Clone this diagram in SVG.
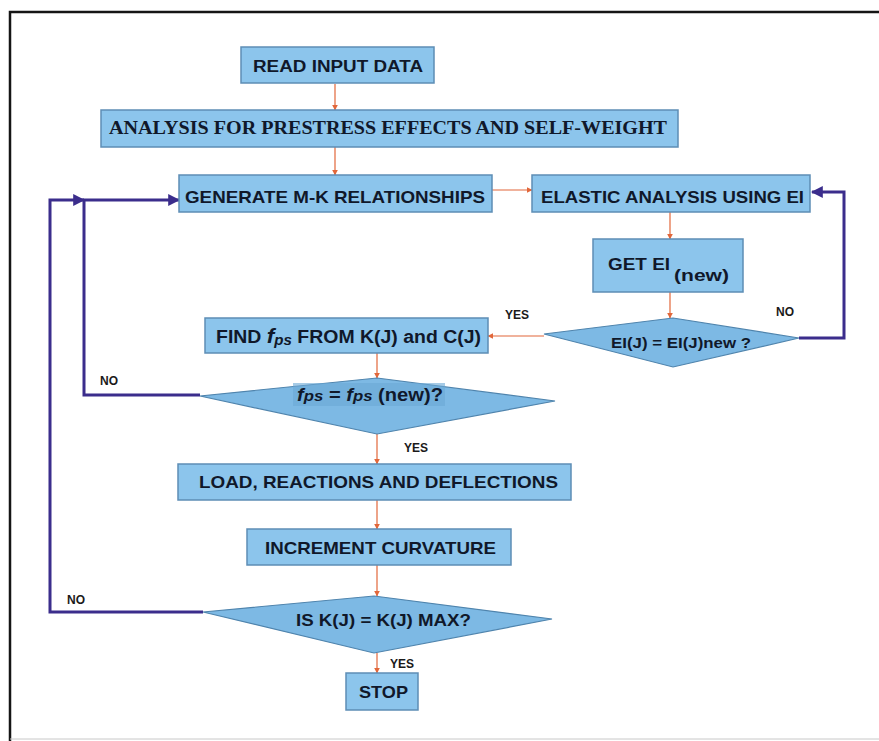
<svg xmlns="http://www.w3.org/2000/svg" width="879" height="741" viewBox="0 0 879 741">
<defs>
<style>
.box{fill:#8cc5ec;stroke:#5d8db5;stroke-width:1.5}
.dia{fill:#7db9e4;stroke:#4f84ad;stroke-width:1.2}
.t{font-family:"Liberation Sans",Arial,sans-serif;font-weight:bold;fill:#10182a}
.tm{font-family:"Liberation Serif","Times New Roman",serif;font-weight:bold;fill:#10182a}
.lbl{font-family:"Liberation Sans",Arial,sans-serif;font-weight:bold;font-size:12px;fill:#1a1a1a}
.o{stroke:#e2673a;stroke-width:1.2;fill:none}
.b{stroke:#3b2d8c;stroke-width:3;fill:none}
</style>
<marker id="ao" viewBox="0 0 10 10" refX="9" refY="5" markerWidth="6" markerHeight="6" orient="auto" markerUnits="userSpaceOnUse"><path d="M0,0 L10,5 L0,10 z" fill="#e2673a"/></marker>
<marker id="ab" viewBox="0 0 10 10" refX="9" refY="5" markerWidth="12" markerHeight="12" orient="auto" markerUnits="userSpaceOnUse"><path d="M0,0 L10,5 L0,10 z" fill="#3b2d8c"/></marker>
</defs>
<rect x="0" y="0" width="879" height="741" fill="#ffffff"/>
<path d="M10,741 V12 H879" fill="none" stroke="#151515" stroke-width="2.5"/>
<line x1="10" y1="739" x2="879" y2="739" stroke="#c8c8c8" stroke-width="1"/>

<g id="connectors">
<line class="o" x1="335" y1="84" x2="335" y2="110" marker-end="url(#ao)"/>
<line class="o" x1="335" y1="147" x2="335" y2="175" marker-end="url(#ao)"/>
<line class="o" x1="492" y1="190" x2="532" y2="190" marker-end="url(#ao)"/>
<line class="o" x1="670" y1="212" x2="670" y2="239" marker-end="url(#ao)"/>
<line class="o" x1="670" y1="292" x2="670" y2="318" marker-end="url(#ao)"/>
<line class="o" x1="544" y1="336" x2="488" y2="336" marker-end="url(#ao)"/>
<line class="o" x1="377" y1="353" x2="377" y2="378" marker-end="url(#ao)"/>
<line class="o" x1="377" y1="434" x2="377" y2="464" marker-end="url(#ao)"/>
<line class="o" x1="377" y1="500" x2="377" y2="529" marker-end="url(#ao)"/>
<line class="o" x1="377" y1="565" x2="377" y2="596" marker-end="url(#ao)"/>
<line class="o" x1="377" y1="653" x2="377" y2="673" marker-end="url(#ao)"/>
<path class="b" d="M799,338 H844 V192 H812" marker-end="url(#ab)"/>
<path class="b" d="M200,395 H84 V200 H179" marker-end="url(#ab)"/>
<path class="b" d="M203,612 H50 V200 H84" marker-end="url(#ab)"/>
<text class="lbl" x="505" y="319">YES</text>
<text class="lbl" x="776" y="316">NO</text>
<text class="lbl" x="100" y="385">NO</text>
<text class="lbl" x="404" y="452">YES</text>
<text class="lbl" x="67" y="604">NO</text>
<text class="lbl" x="390" y="668">YES</text>
</g>

<g id="read">
<rect class="box" x="241" y="47" width="193" height="36"/>
<text class="t" x="253" y="72" font-size="16" textLength="170" lengthAdjust="spacingAndGlyphs">READ INPUT DATA</text>
</g>
<g id="analysis">
<rect class="box" x="101" y="110" width="577" height="37"/>
<text class="tm" x="109" y="134" font-size="18" textLength="558" lengthAdjust="spacingAndGlyphs">ANALYSIS FOR PRESTRESS EFFECTS AND SELF-WEIGHT</text>
</g>
<g id="generate">
<rect class="box" x="179" y="175" width="313" height="37"/>
<text class="t" x="185" y="203" font-size="17" textLength="300" lengthAdjust="spacingAndGlyphs">GENERATE M-K RELATIONSHIPS</text>
</g>
<g id="elastic">
<rect class="box" x="532" y="175" width="278" height="37"/>
<text class="t" x="541" y="203" font-size="17" textLength="263" lengthAdjust="spacingAndGlyphs">ELASTIC ANALYSIS USING EI</text>
</g>
<g id="getei">
<rect class="box" x="593" y="239" width="150" height="53"/>
<text class="t" x="608" y="270" font-size="17" textLength="62" lengthAdjust="spacingAndGlyphs">GET EI</text>
<text class="t" x="674" y="281" font-size="17" textLength="55" lengthAdjust="spacingAndGlyphs">(new)</text>
</g>
<g id="eicheck">
<polygon class="dia" points="544,334 673,318 799,338 673,367"/>
<text class="t" x="611" y="348" font-size="15" textLength="140" lengthAdjust="spacingAndGlyphs">EI(J) = EI(J)new ?</text>
</g>
<g id="findfps">
<rect class="box" x="205" y="318" width="283" height="35"/>
<text class="t" x="216" y="343" font-size="18" textLength="265" lengthAdjust="spacingAndGlyphs"><tspan>FIND </tspan><tspan font-style="italic" font-size="21">f</tspan><tspan font-style="italic" font-size="14" dy="2">ps</tspan><tspan dy="-2"> FROM K(J) and C(J)</tspan></text>
</g>
<g id="fpscheck">
<polygon class="dia" points="200,396 377,378 555,401 377,434"/>
<rect x="293" y="383" width="152" height="23" fill="#6aa8d6" opacity="0.6"/>
<text class="t" x="297" y="401" font-size="18" textLength="146" lengthAdjust="spacingAndGlyphs"><tspan font-style="italic">f</tspan><tspan font-style="italic" font-size="15">ps</tspan><tspan> = </tspan><tspan font-style="italic">f</tspan><tspan font-style="italic" font-size="15">ps</tspan><tspan> (new)?</tspan></text>
</g>
<g id="load">
<rect class="box" x="178" y="464" width="393" height="36"/>
<text class="t" x="199" y="488" font-size="17" textLength="359" lengthAdjust="spacingAndGlyphs">LOAD, REACTIONS AND DEFLECTIONS</text>
</g>
<g id="increment">
<rect class="box" x="247" y="529" width="264" height="36"/>
<text class="t" x="265" y="554" font-size="17" textLength="231" lengthAdjust="spacingAndGlyphs">INCREMENT CURVATURE</text>
</g>
<g id="kcheck">
<polygon class="dia" points="203,612 374,596 552,619 374,653"/>
<text class="t" x="296" y="626" font-size="17" textLength="175" lengthAdjust="spacingAndGlyphs">IS K(J) = K(J) MAX?</text>
</g>
<g id="stop">
<rect class="box" x="346" y="673" width="72" height="37"/>
<text class="t" x="359" y="698" font-size="17" textLength="49" lengthAdjust="spacingAndGlyphs">STOP</text>
</g>
</svg>
